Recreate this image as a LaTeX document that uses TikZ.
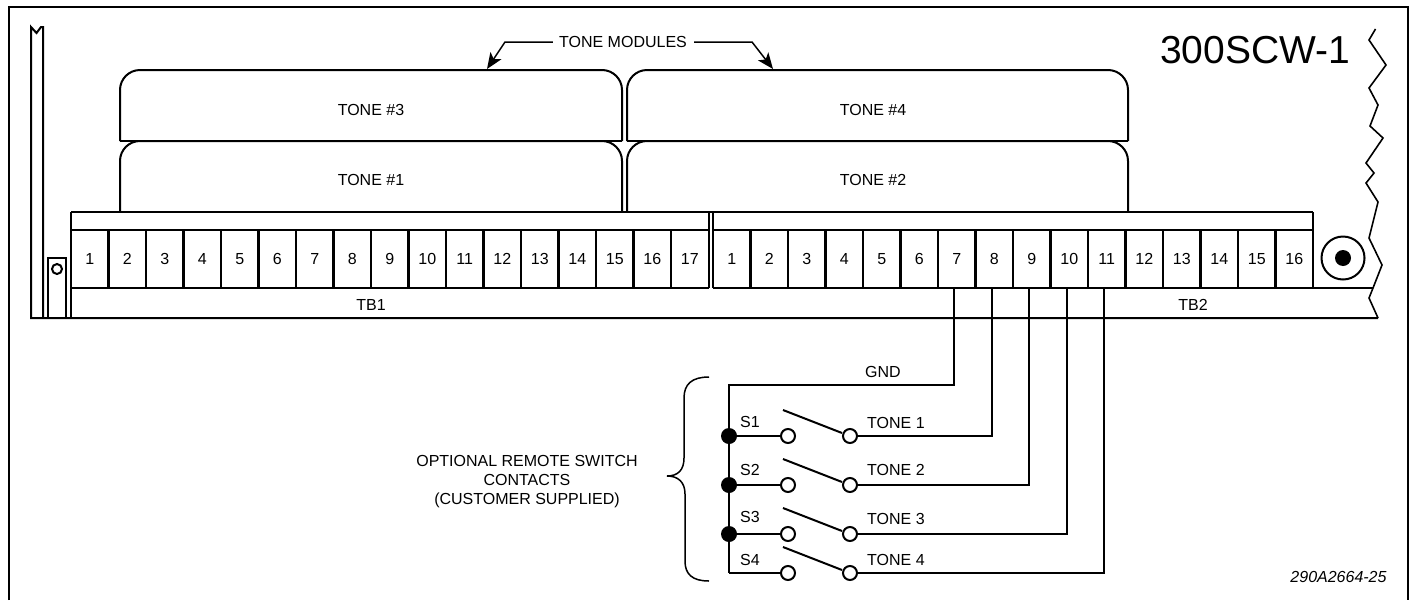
\documentclass[tikz,border=0pt]{standalone}
\usepackage{fontspec}
\setmainfont{Liberation Sans}
\usetikzlibrary{arrows.meta,positioning}
\tikzstyle{wire} = [line width=2pt,line join=miter]
\tikzstyle{pointer} = [line width=1.5pt,-{Stealth[length=16pt,width=13pt,inset=4pt]}]
\tikzstyle{module} = [draw,line width=2pt,rounded corners=20pt]
\tikzstyle{terminal} = [minimum width=37.5pt,minimum height=58pt,inner sep=0pt,outer sep=0pt,font=\fontsize{16}{19}\selectfont]
\tikzstyle{divider} = [line width=2.8pt]
\tikzstyle{label} = [inner sep=0pt,font=\fontsize{16}{19}\selectfont]
\tikzstyle{contact} = [circle,draw,fill=white,line width=2pt,minimum size=14pt,inner sep=0pt,outer sep=0pt]
\tikzstyle{junction} = [circle,fill=black,minimum size=16pt,inner sep=0pt,outer sep=0pt]
\begin{document}
\begin{tikzpicture}[x=1pt,y=-1pt]
\useasboundingbox (0,0) rectangle (1412,600);
% outer frame
\draw[line width=2pt] (9,600) -- (9,7) -- (1408,7) -- (1408,600);
% mounting rail
\draw[wire] (43,318) -- (43,27) -- (41,27) -- (36.5,33) -- (31,27) -- (31,318) -- (1378,318);
\node[draw,line width=2pt,minimum width=18pt,minimum height=60pt,outer sep=0pt] (tab) at (57,288) {};
\node[circle,draw,line width=2pt,minimum size=10pt,inner sep=0pt] (tabhole) at (57,269) {};
\draw[wire] (71,212) -- (71,318);
% tone modules
\draw[module] (120,212) |- (622,141) -- (622,212);
\draw[module] (627,212) |- (1128,141) -- (1128,212);
\draw[module] (120,141) |- (622,70) -- (622,141);
\draw[module] (627,141) |- (1128,70) -- (1128,141);
\draw[wire] (120,141) -- (622,141) (627,141) -- (1128,141);
\node[label] (tone3) at (371,110) {TONE \#3};
\node[label] (tone4) at (873,110) {TONE \#4};
\node[label] (tone1) at (371,180) {TONE \#1};
\node[label] (tone2) at (873,180) {TONE \#2};
% terminal boards
\draw[line width=2.8pt] (71,212) -- (1313,212);
\draw[wire] (708.5,212) -- (708.5,288) (713,212) -- (713,288);
\draw[wire] (1313,212) -- (1313,288) -- (1373,288);
\draw[line width=1.6pt] (71,230) -- (708.5,230) (713,230) -- (1313,230);
\draw[line width=1.6pt] (71,288) -- (708.5,288) (713,288) -- (1313,288);
\foreach \n in {1,...,17}
  \node[terminal] (tba\n) at ({71+37.5*(\n-0.5)},259) {\n};
\foreach \n in {1,...,16}
  \node[terminal] (tbb\n) at ({713+37.5*(\n-0.5)},259) {\n};
\foreach \n in {1,...,16}
  \draw[divider] (tba\n.north east) -- (tba\n.south east);
\foreach \n in {1,...,15}
  \draw[divider] (tbb\n.north east) -- (tbb\n.south east);
\node[label] (tb1) at (371,305) {TB1};
\node[label] (tb2) at (1193,305) {TB2};
% stud
\node[circle,draw,line width=2pt,minimum size=43pt,inner sep=0pt] (stud) at (1343,258) {};
\node[circle,fill=black,minimum size=16pt,inner sep=0pt] (studcore) at (1343,258) {};
% break line
\draw[line width=1.6pt] (1375.5,29) -- (1369,40) -- (1386,65) -- (1369,88) -- (1378,105) -- (1370,126) -- (1383,138) -- (1366,163) -- (1374,173) -- (1366,183) -- (1378,202) -- (1369,238) -- (1382,265) -- (1373,288) -- (1369,298) -- (1378,318);
\node[label,font=\fontsize{39}{42}\selectfont] (model) at (1255,50) {300SCW-1};
% callout
\node[label] (modules) at (623,42) {TONE MODULES};
\draw[pointer] (modules.west) ++(-6,0) -- (505,42) -- (487,69);
\draw[pointer] (modules.east) ++(7,0) -- (752,42) -- (773,69);
% switches
\coordinate (gndcorner) at (729,385);
\foreach \y/\s/\sy/\ty in {436/1/422/423,485/2/470/470,534/3/517/519,573/4/560/560}{
  \node[contact] (sa\s) at (788,\y) {};
  \node[contact] (sb\s) at (850,\y) {};
  \coordinate (sw\s) at (729,\y);
  \draw[wire] (sb\s) ++(-8,-3) -- ++(-59,-23);
  \draw[wire] (sw\s) -- (sa\s);
  \node[label,anchor=west] (sl\s) at (740,\sy) {S\s};
  \node[label,anchor=west] (tl\s) at (867,\ty) {TONE \s};
}
\node[label] (gnd) at (883,372) {GND};
\draw[wire] ([xshift=-2.5pt]tbb7.south) |- (gndcorner) -- (sw4);
\draw[wire] ([xshift=-2.5pt]tbb8.south) |- (sb1);
\draw[wire] ([xshift=-2.5pt]tbb9.south) |- (sb2);
\draw[wire] ([xshift=-2.5pt]tbb10.south) |- (sb3);
\draw[wire] ([xshift=-2.5pt]tbb11.south) |- (sb4);
\foreach \s in {1,2,3}
  \node[junction] (dot\s) at (sw\s) {};
% brace
\draw[line width=1.5pt] (709,377) .. controls (692,377) and (684,384) .. (684,398) -- (684,458) .. controls (684,470) and (678,476) .. (667,476) .. controls (678,476) and (685,482) .. (685,494) -- (685,561) .. controls (685,574) and (692,581) .. (709,581);
\node[label,align=center] (optional) at (527,481.5) {OPTIONAL REMOTE SWITCH\\CONTACTS\\(CUSTOMER SUPPLIED)};
\node[label,font=\fontsize{16}{19}\itshape\selectfont] (partno) at (1338.5,577) {290A2664-25};
\end{tikzpicture}
\end{document}
